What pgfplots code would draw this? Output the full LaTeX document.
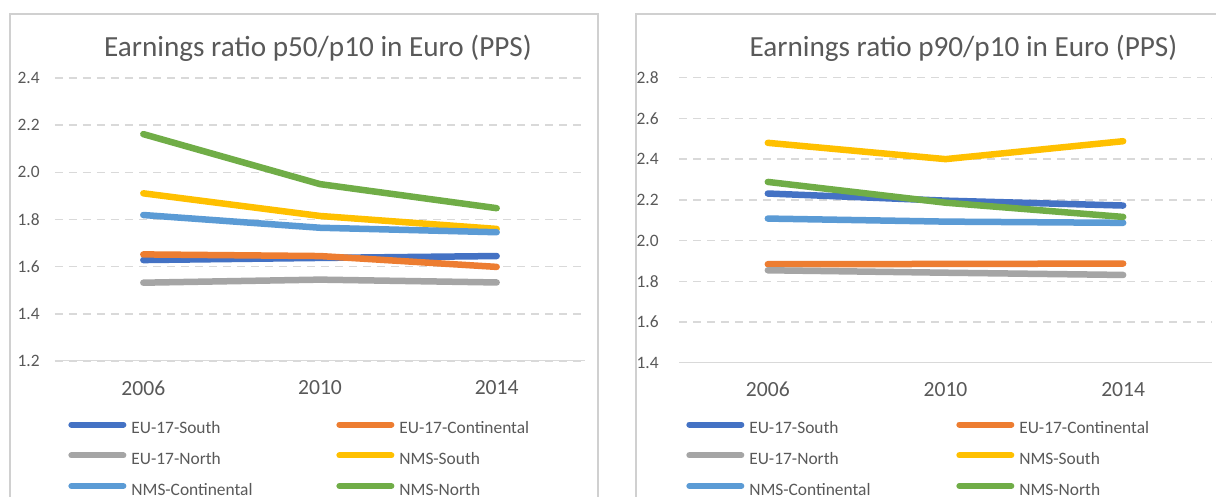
\documentclass[border=0pt]{standalone}
\usepackage{pgfplots}
\pgfplotsset{compat=1.18}
\usepackage{fontspec}
\setmainfont{Carlito}
\definecolor{cS}{HTML}{4472C4}
\definecolor{cC}{HTML}{ED7D31}
\definecolor{cN}{HTML}{A5A5A5}
\definecolor{nS}{HTML}{FFC000}
\definecolor{nC}{HTML}{5B9BD5}
\definecolor{nN}{HTML}{70AD47}
\definecolor{txt}{HTML}{595959}
\definecolor{gridc}{HTML}{D9D9D9}
\definecolor{framec}{HTML}{D0D0D0}
\pgfplotsset{
  mystyle/.style={
    scale only axis, anchor=south west,
    xmin=-0.5, xmax=2.5,
    xtick={0,1,2}, xticklabels={2006,2010,2014},
    major tick length=0pt,
    axis line style={draw=none},
    ymajorgrids,
    major grid style={draw=gridc, line width=0.75pt, dash pattern=on 4pt off 3pt},
    /pgf/number format/assume math mode=true,
    tick label style={font=\fontsize{8.7}{10}\selectfont, text=txt},
    xticklabel style={font=\fontsize{10.8}{12}\selectfont, anchor=center, yshift=-13.5pt, inner sep=0pt},
    yticklabel style={anchor=east, inner sep=0pt, /pgf/number format/fixed, /pgf/number format/fixed zerofill, /pgf/number format/precision=1},
    title style={font=\fontsize{14.6}{17}\selectfont, text=txt, anchor=base, yshift=4.5pt, inner sep=0pt},
    legend columns=2, legend cell align=left,
    legend style={draw=none, fill=none, inner sep=0pt, anchor=north west,
      font=\fontsize{8.7}{10}\selectfont, text=txt,
      nodes={inner sep=0pt, text height=6pt, text depth=2pt},
      /tikz/every odd column/.append style={column sep=2.5pt},
      row sep=7.25pt},
    legend image code/.code={\draw[line width=3pt, line cap=round, #1] (1.5pt,2.6pt) -- (27.5pt,2.6pt);},
    every axis plot/.append style={line width=3.25pt, line cap=round, line join=round, mark=none},
  }
}
\begin{document}
\begin{tikzpicture}
\path[use as bounding box, clip] (0,0) rectangle (608pt,248.5pt);
\fill[white] (0,0) rectangle (608pt,248.5pt);
\draw[framec, line width=1pt] (5pt,-10pt) rectangle (299pt,241.5pt);
\draw[framec, line width=1pt] (318pt,-10pt) rectangle (640pt,241.5pt);

\begin{axis}[mystyle,
  at={(27.5pt,68pt)}, width=265pt, height=141.5pt,
  ymin=1.2, ymax=2.4, ytick={1.2,1.4,1.6,1.8,2.0,2.2,2.4},
  yticklabel style={xshift=-7.5pt},
  title={Earnings ratio p50/p10 in Euro (PPS)},
  title style={xshift=-1pt},
  legend style={at={(axis description cs:0.0245,-0.213)}},
]
\draw[gridc, line width=1pt] (rel axis cs:0,0) -- (rel axis cs:1,0);
\addplot[cS] coordinates {(0,1.628) (1,1.637) (2,1.645)};
\addlegendentry{\makebox[102.5pt][l]{EU-17-South}}
\addplot[cC] coordinates {(0,1.652) (1,1.645) (2,1.599)};
\addlegendentry{EU-17-Continental}
\addplot[cN] coordinates {(0,1.532) (1,1.545) (2,1.533)};
\addlegendentry{\makebox[102.5pt][l]{EU-17-North}}
\addplot[nS] coordinates {(0,1.911) (1,1.815) (2,1.760)};
\addlegendentry{NMS-South}
\addplot[nC] coordinates {(0,1.819) (1,1.765) (2,1.746)};
\addlegendentry{\makebox[102.5pt][l]{NMS-Continental}}
\addplot[nN] coordinates {(0,2.162) (1,1.950) (2,1.848)};
\addlegendentry{NMS-North}
\end{axis}

\begin{axis}[mystyle,
  at={(339.5pt,67.15pt)}, width=266.5pt, height=142.5pt,
  ymin=1.4, ymax=2.8, ytick={1.4,1.6,1.8,2.0,2.2,2.4,2.6,2.8},
  yticklabel style={xshift=-10pt},
  title={Earnings ratio p90/p10 in Euro (PPS)},
  title style={xshift=9pt},
  legend style={at={(axis description cs:0.013,-0.2053)}},
]
\draw[gridc, line width=1pt] (rel axis cs:0,0) -- (rel axis cs:1,0);
\addplot[cS] coordinates {(0,2.231) (1,2.196) (2,2.172)};
\addlegendentry{\makebox[103.5pt][l]{EU-17-South}}
\addplot[cC] coordinates {(0,1.884) (1,1.885) (2,1.887)};
\addlegendentry{EU-17-Continental}
\addplot[cN] coordinates {(0,1.854) (1,1.842) (2,1.831)};
\addlegendentry{\makebox[103.5pt][l]{EU-17-North}}
\addplot[nS] coordinates {(0,2.480) (1,2.400) (2,2.488)};
\addlegendentry{NMS-South}
\addplot[nC] coordinates {(0,2.108) (1,2.093) (2,2.087)};
\addlegendentry{\makebox[103.5pt][l]{NMS-Continental}}
\addplot[nN] coordinates {(0,2.288) (1,2.186) (2,2.116)};
\addlegendentry{NMS-North}
\end{axis}
\end{tikzpicture}
\end{document}
